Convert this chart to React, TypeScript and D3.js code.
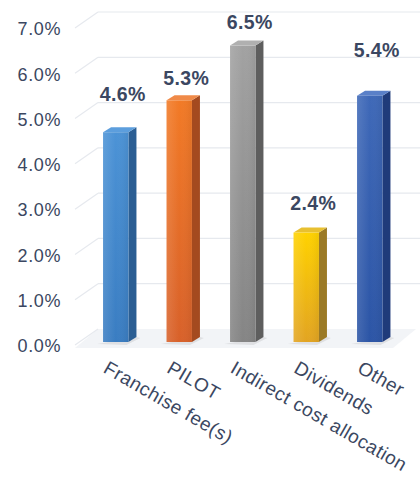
import React from "react";
import * as d3 from "d3";

const categories = ["Franchise fee(s)", "PILOT", "Indirect cost allocation", "Dividends", "Other"];
const values = [4.6, 5.3, 6.5, 2.4, 5.4];
const yTicks = [0, 1, 2, 3, 4, 5, 6, 7];
const labelLift = [31, 15, 17, 23, 39];

const palette = [
  { top: "#5c9edd", front0: "#4c93d6", front1: "#3a7dc2", side: "#2b5e93" },
  { top: "#f08a48", front0: "#f27a26", front1: "#d8612a", side: "#a44a1f" },
  { top: "#b0b0b0", front0: "#a2a2a2", front1: "#858585", side: "#5e5e5e" },
  { top: "#e8c030", front0: "#ffd200", front1: "#e2a422", side: "#9b7a26" },
  { top: "#5a80c8", front0: "#3f69b8", front1: "#2c55a6", side: "#1f3b7a" },
];

const W = 420;
const H = 478;
const textColor = "#3b4761";
const font = "'Liberation Sans', Arial, Helvetica, sans-serif";

export default function App() {
  const yBack = d3.scaleLinear().domain([0, 7]).range([329, 12]);
  const yBar = d3.scaleLinear().domain([0, 7]).range([342, 342 - 7 * 45.6]);
  const x = d3
    .scaleBand<string>()
    .domain(categories)
    .range([84, 401.5])
    .paddingInner(0.6)
    .paddingOuter(0.3);
  const bw = x.bandwidth();
  const dx = 8;
  const dy = 5;
  const wallX0 = 75;
  const wallX1 = 98;
  const wallDY = 16;

  return (
    <svg
      width={W}
      height={H}
      style={{ position: "absolute", left: 0, top: 0, background: "#fff" }}
      fontFamily={font}
    >
      <defs>
        {palette.map((p, i) => (
          <linearGradient key={i} id={`g${i}`} x1="0" y1="0" x2="0" y2="1">
            <stop offset="0" stopColor={p.front0} />
            <stop offset="1" stopColor={p.front1} />
          </linearGradient>
        ))}
        {palette.map((p, i) => (
          <linearGradient key={`h${i}`} id={`h${i}`} x1="0" y1="0" x2="1" y2="0">
            <stop offset="0" stopColor="#fff" stopOpacity={0.12} />
            <stop offset="0.5" stopColor="#fff" stopOpacity={0} />
            <stop offset="1" stopColor="#000" stopOpacity={0.06} />
          </linearGradient>
        ))}
      </defs>

      {/* floor */}
      <polygon
        points={`${wallX0},${yBack(0) + wallDY + 3} ${wallX1},${yBack(0)} ${W - 4},${yBack(0)} ${W - 27},${yBack(0) + wallDY + 3}`}
        fill="#f2f4f7"
      />

      {/* grid */}
      {yTicks.map((t) => (
        <g key={t}>
          <line
            x1={wallX0}
            y1={yBack(t) + wallDY}
            x2={wallX1}
            y2={yBack(t)}
            stroke="#e6e9ee"
            strokeWidth={1.2}
          />
          {t > 0 && (
            <line x1={wallX1} y1={yBack(t)} x2={W} y2={yBack(t)} stroke="#e6e9ee" strokeWidth={1.2} />
          )}
          <text
            x={61}
            y={yBack(t) + wallDY + 1}
            dy="0.35em"
            textAnchor="end"
            fontSize={18}
            letterSpacing={0.6}
            fill={textColor}
          >
            {d3.format(".1%")(t / 100)}
          </text>
        </g>
      ))}

      {/* bars */}
      {categories.map((c, i) => {
        const x0 = x(c)!;
        const x1 = x0 + bw;
        const yt = yBar(values[i]);
        const yb = yBar(0);
        const p = palette[i];
        return (
          <g key={c}>
            <polygon
              points={`${x0 - 6},${yb + 2} ${x1 + dx},${yb - dy} ${x1 + dx + 4},${yb - dy + 1} ${x1 - 2},${yb + 3}`}
              fill="#000"
              opacity={0.08}
            />
            <polygon
              points={`${x1},${yt} ${x1 + dx},${yt - dy} ${x1 + dx},${yb - dy} ${x1},${yb}`}
              fill={p.side}
            />
            <polygon
              points={`${x0},${yt} ${x0 + dx},${yt - dy} ${x1 + dx},${yt - dy} ${x1},${yt}`}
              fill={p.top}
            />
            <rect x={x0} y={yt} width={bw} height={yb - yt} fill={`url(#g${i})`} />
            <rect x={x0} y={yt} width={bw} height={yb - yt} fill={`url(#h${i})`} />
            <text
              x={x0 + (bw + dx) / 2 + 3}
              y={yt - labelLift[i]}
              textAnchor="middle"
              fontSize={19.5}
              letterSpacing={0.4}
              fontWeight="bold"
              fill={textColor}
            >
              {d3.format(".1%")(values[i] / 100)}
            </text>
            <text
              transform={`translate(${x0 + 6},${360}) rotate(30)`}
              fontSize={19}
              letterSpacing={0.5}
              fill={textColor}
              dominantBaseline="hanging"
            >
              {c}
            </text>
          </g>
        );
      })}
    </svg>
  );
}
